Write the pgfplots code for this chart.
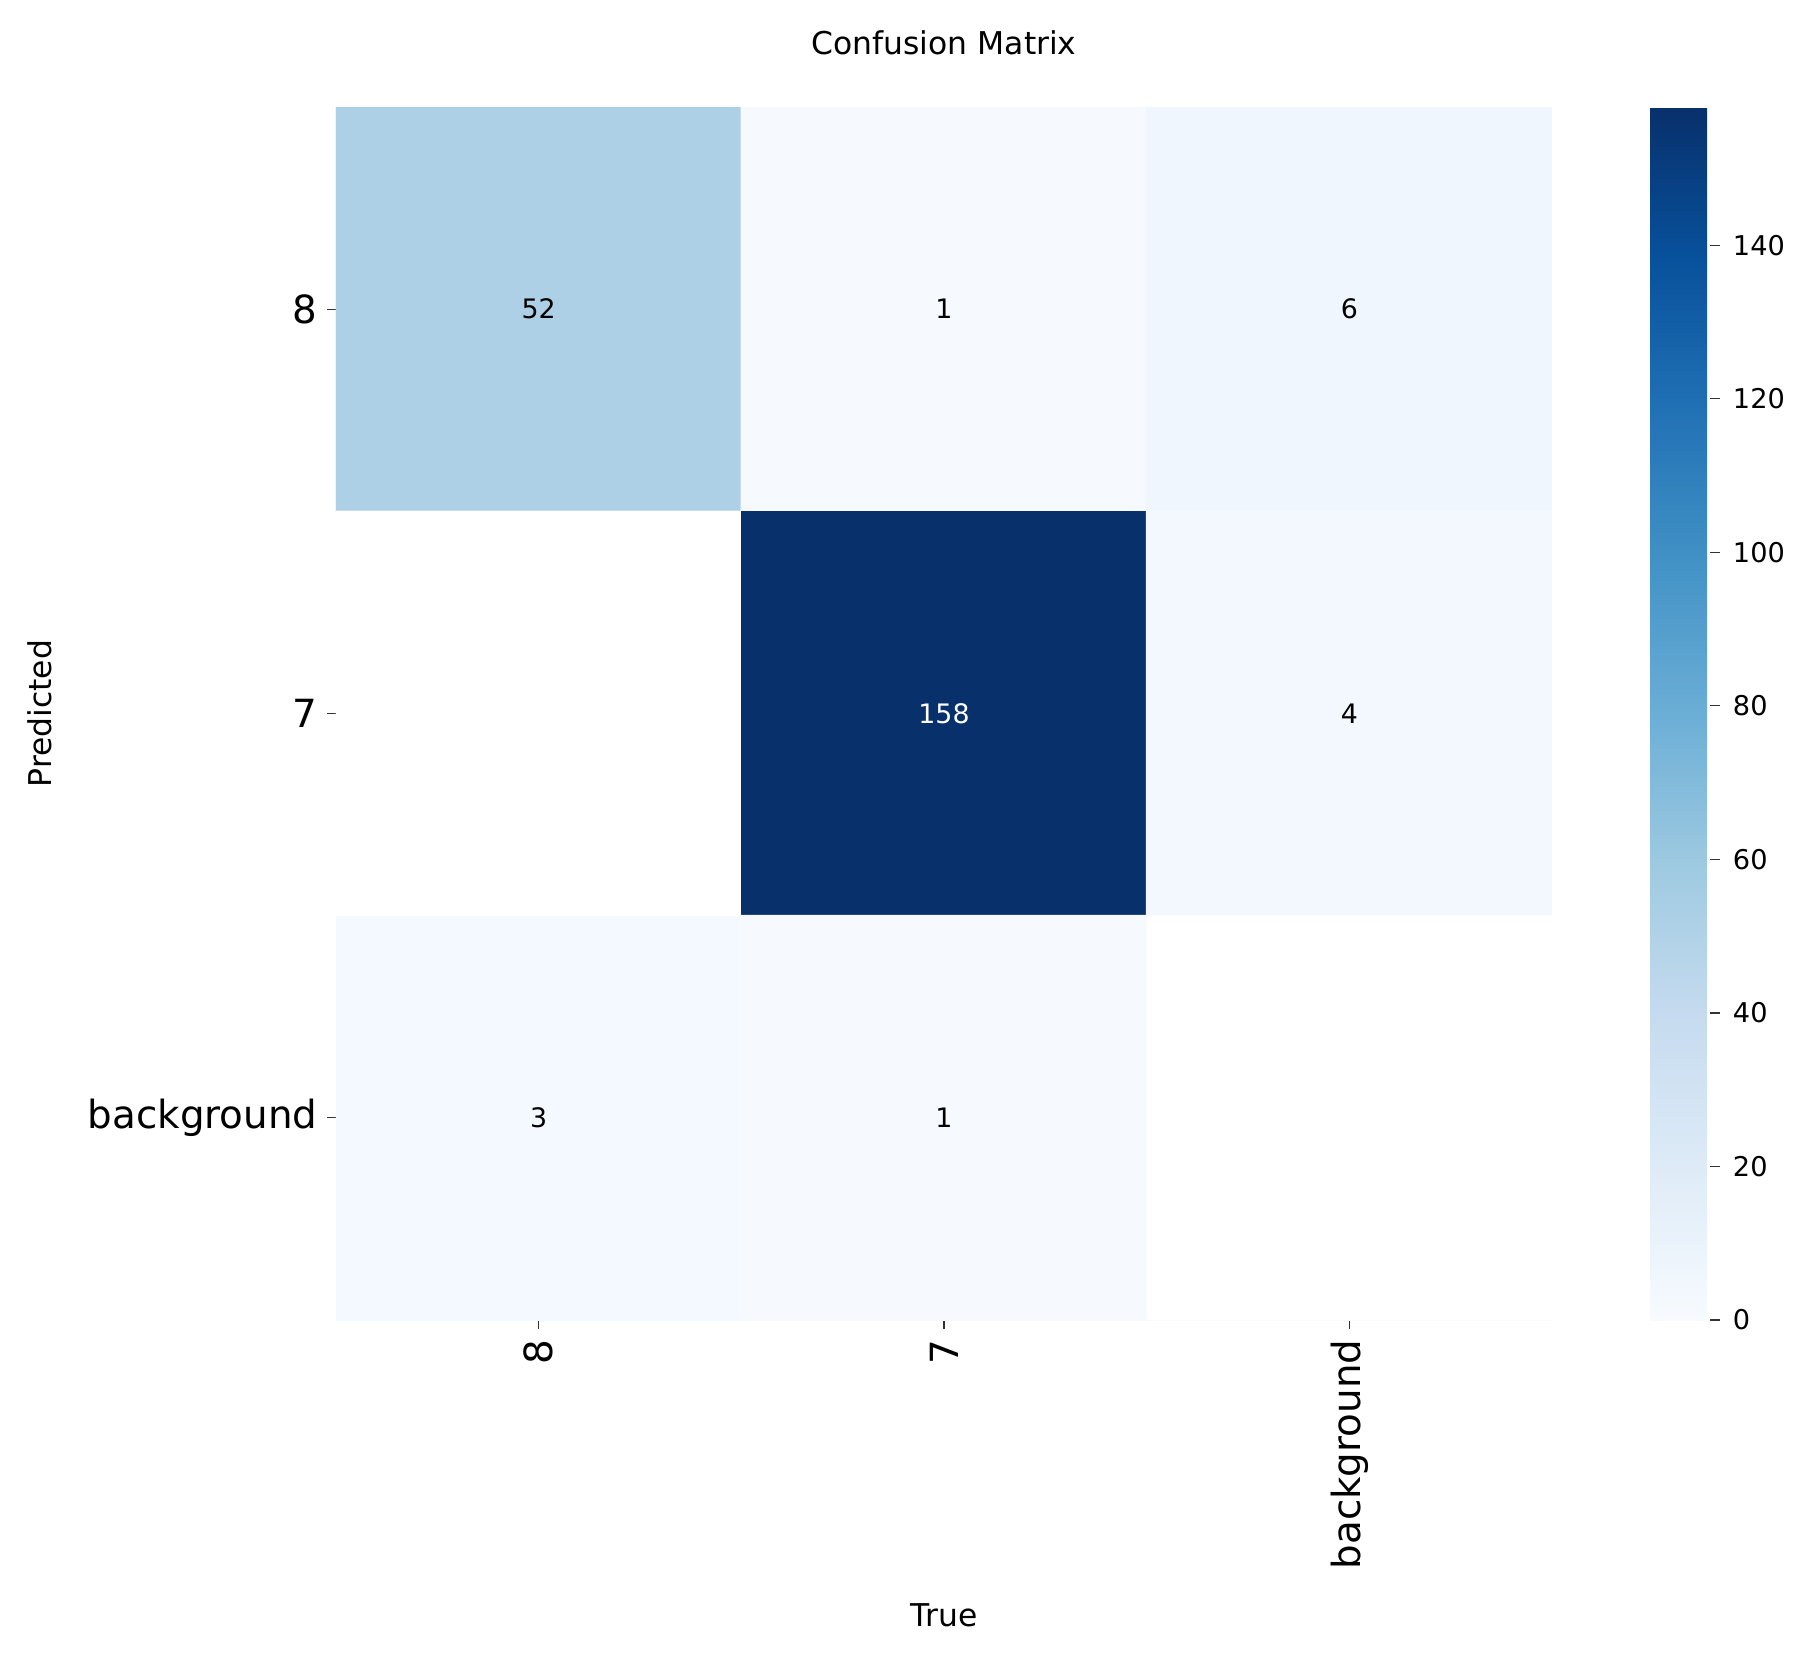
\documentclass[border=0pt]{standalone}
\usepackage{pgfplots}
\pgfplotsset{compat=1.18}
\usepackage{fontspec}
\setmainfont{DejaVu Sans}
\pgfplotsset{/pgf/number format/assume math mode=true}
\begin{document}
\begin{tikzpicture}[x=1pt,y=1pt]
\useasboundingbox (-84pt,-83.25pt) rectangle (367.75pt,330pt);
\begin{axis}[
  at={(0,0)}, anchor=south west,
  scale only axis,
  width=304pt, height=303.25pt,
  xmin=-0.5, xmax=2.5, ymin=-0.5, ymax=2.5,
  y dir=reverse,
  enlargelimits=false,
  axis line style={draw=none},
  tick align=outside,
  xtick pos=bottom, ytick pos=left,
  major tick length=2.25pt,
  tick style={color=black!80, line width=0.3pt},
  xtick={0,1,2}, ytick={0,1,2},
  xticklabels={8,7,background},
  yticklabels={8,7,background},
  ticklabel style={font=\fontsize{9.7}{11.6}\selectfont},
  yticklabel style={anchor=east, inner sep=0pt, xshift=-2.2pt},
  xticklabel style={rotate=90, anchor=east, inner ysep=0pt, inner xsep=2.5pt},
  title={Confusion Matrix},
  title style={at={(0.5,1.033)}, anchor=center, yshift=0pt, font=\fontsize{7.85}{9.4}\selectfont},
  xlabel={True},
  xlabel style={at={(0.5,-0.2432)}, anchor=center, font=\fontsize{7.85}{9.4}\selectfont},
  ylabel={Predicted},
  ylabel style={at={(-0.2434,0.5)}, anchor=center, rotate=0, font=\fontsize{7.85}{9.4}\selectfont},
  colormap={blues}{rgb255=(247,251,255) rgb255=(222,235,247) rgb255=(198,219,239) rgb255=(158,202,225) rgb255=(107,174,214) rgb255=(66,146,198) rgb255=(33,113,181) rgb255=(8,81,156) rgb255=(8,48,107)},
  point meta min=0, point meta max=158,
  colorbar,
  colorbar style={
    at={(parent axis.north east)}, anchor=north west, xshift=16pt,
    width=15pt, height=303.25pt,
    axis line style={draw=none},
    ytick={0,20,40,60,80,100,120,140},
    ytick pos=right,
    tick align=outside,
    major tick length=2.5pt,
    tick style={color=black!80, line width=0.3pt},
    yticklabel style={font=\fontsize{6.8}{8.2}\selectfont, anchor=west, inner sep=0pt, xshift=3pt},
  },
]
\addplot[matrix plot*, shader=flat corner, mesh/cols=3, point meta=explicit] table[x=x, y=y, meta=z] {
x y z
0 0 52
1 0 1
2 0 6
0 1 0
1 1 158
2 1 4
0 2 3
1 2 1
2 2 0
};
% zero cells are left blank (white)
\addplot[fill=white, draw=none, forget plot] coordinates {(-0.5,0.5) (0.5,0.5) (0.5,1.5) (-0.5,1.5)} -- cycle;
\addplot[fill=white, draw=none, forget plot] coordinates {(1.5,1.5) (2.5,1.5) (2.5,2.5) (1.5,2.5)} -- cycle;
% annotations
\addplot[draw=none, mark=none, nodes near coords, point meta=explicit symbolic,
  nodes near coords style={anchor=center, text=black, font=\fontsize{6.7}{8}\selectfont}]
  table[x=x, y=y, meta=t] {
x y t
0 0 52
1 0 1
2 0 6
2 1 4
0 2 3
1 2 1
};
\addplot[draw=none, mark=none, nodes near coords, point meta=explicit symbolic,
  nodes near coords style={anchor=center, text=white, font=\fontsize{6.7}{8}\selectfont}]
  table[x=x, y=y, meta=t] {
x y t
1 1 158
};
\end{axis}
\end{tikzpicture}
\end{document}
